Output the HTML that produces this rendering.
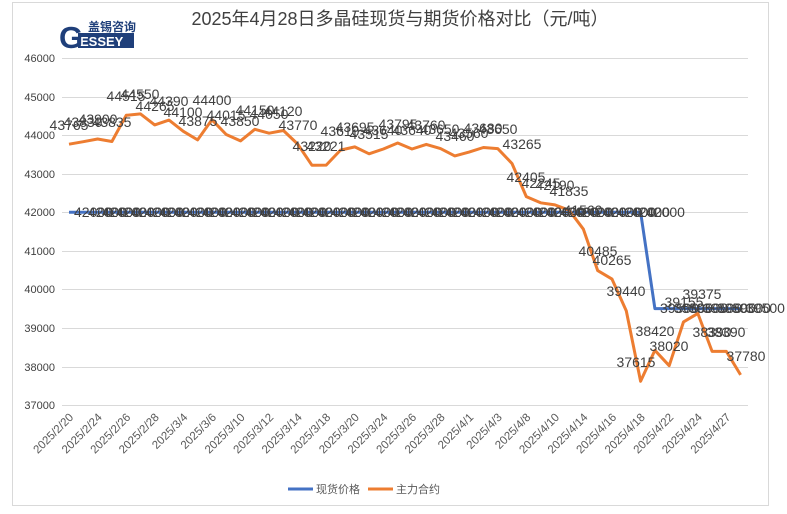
<!DOCTYPE html>
<html><head><meta charset="utf-8"><style>
body{margin:0;background:#fff;}
svg{display:block;font-family:"Liberation Sans","Noto Sans CJK SC",sans-serif;}
</style></head><body>
<svg width="787" height="514" viewBox="0 0 787 514" xmlns="http://www.w3.org/2000/svg">
<rect x="12.5" y="2.5" width="756" height="503" fill="#fff" stroke="#d9d9d9"/>
<!-- logo -->
<text x="88" y="31" font-size="12" fill="#1f3f7a" font-weight="bold">盖锡咨询</text>
<rect x="78" y="33" width="56" height="15" fill="#1f3f7a"/>
<text x="80" y="46" font-size="13" fill="#fff" font-weight="bold">ESSEY</text>
<text x="59" y="48" font-size="31" fill="#1f3f7a" font-weight="bold">G</text>
<text x="400" y="25" font-size="18" fill="#404040" text-anchor="middle">2025年4月28日多晶硅现货与期货价格对比（元/吨）</text>
<g stroke="#d9d9d9" stroke-width="1">
<line x1="62" x2="748" y1="58.5" y2="58.5"/><line x1="62" x2="748" y1="97.5" y2="97.5"/>
<line x1="62" x2="748" y1="135.5" y2="135.5"/><line x1="62" x2="748" y1="174.5" y2="174.5"/>
<line x1="62" x2="748" y1="212.5" y2="212.5"/><line x1="62" x2="748" y1="251.5" y2="251.5"/>
<line x1="62" x2="748" y1="289.5" y2="289.5"/><line x1="62" x2="748" y1="328.5" y2="328.5"/>
<line x1="62" x2="748" y1="367.5" y2="367.5"/><line x1="62" x2="748" y1="405.5" y2="405.5"/>
</g>
<g font-size="11" fill="#404040" text-anchor="end">
<text x="55" y="62">46000</text><text x="55" y="101">45000</text><text x="55" y="139">44000</text>
<text x="55" y="178">43000</text><text x="55" y="216">42000</text><text x="55" y="255">41000</text>
<text x="55" y="293">40000</text><text x="55" y="332">39000</text><text x="55" y="371">38000</text>
<text x="55" y="409">37000</text>
</g>
<g font-size="11.5" fill="#595959" text-anchor="end">
<text transform="translate(74,418) rotate(-45)">2025/2/20</text>
<text transform="translate(102.6,418) rotate(-45)">2025/2/24</text>
<text transform="translate(131.2,418) rotate(-45)">2025/2/26</text>
<text transform="translate(159.7,418) rotate(-45)">2025/2/28</text>
<text transform="translate(188.3,418) rotate(-45)">2025/3/4</text>
<text transform="translate(216.9,418) rotate(-45)">2025/3/6</text>
<text transform="translate(245.5,418) rotate(-45)">2025/3/10</text>
<text transform="translate(274.1,418) rotate(-45)">2025/3/12</text>
<text transform="translate(302.6,418) rotate(-45)">2025/3/14</text>
<text transform="translate(331.2,418) rotate(-45)">2025/3/18</text>
<text transform="translate(359.8,418) rotate(-45)">2025/3/20</text>
<text transform="translate(388.4,418) rotate(-45)">2025/3/24</text>
<text transform="translate(417,418) rotate(-45)">2025/3/26</text>
<text transform="translate(445.5,418) rotate(-45)">2025/3/28</text>
<text transform="translate(474.1,418) rotate(-45)">2025/4/1</text>
<text transform="translate(502.7,418) rotate(-45)">2025/4/3</text>
<text transform="translate(531.3,418) rotate(-45)">2025/4/8</text>
<text transform="translate(559.9,418) rotate(-45)">2025/4/10</text>
<text transform="translate(588.4,418) rotate(-45)">2025/4/14</text>
<text transform="translate(617,418) rotate(-45)">2025/4/16</text>
<text transform="translate(645.6,418) rotate(-45)">2025/4/18</text>
<text transform="translate(674.2,418) rotate(-45)">2025/4/22</text>
<text transform="translate(702.8,418) rotate(-45)">2025/4/24</text>
<text transform="translate(731.3,418) rotate(-45)">2025/4/27</text>
</g>
<polyline fill="none" stroke="#4472c4" stroke-width="3" stroke-linejoin="round" points="69,212.2 640.6,212.2 654.9,308.6 740.6,308.6"/>
<polyline fill="none" stroke="#ed7d31" stroke-width="3" stroke-linejoin="round" points="69,144.2 83.3,141.7 97.6,139 111.9,141.5 126.2,115.3 140.5,113.9 154.7,124.9 169,120.1 183.3,131.3 197.6,139.9 211.9,119.7 226.2,134.5 240.5,140.9 254.8,129.3 269.1,133.2 283.4,130.5 297.6,144 311.9,165.2 326.2,165.1 340.5,150.1 354.8,146.9 369.1,153.8 383.4,149 397.7,143 412,149 426.3,144.4 440.5,148.6 454.8,155.9 469.1,152.1 483.4,147.5 497.7,148.6 512,163.5 526.3,196.6 540.6,202.8 554.9,204.9 569.2,210.3 583.4,229.2 597.7,270.6 612,279.1 626.3,310.9 640.6,381.3 654.9,350.3 669.2,365.7 683.5,321.9 697.8,313.4 712.1,351.4 726.3,351.4 740.6,374.9"/>
<g font-size="14" fill="#404040">
<text x="74" y="217">42000</text><text x="88" y="217">42000</text><text x="102" y="217">42000</text><text x="116" y="217">42000</text><text x="131" y="217">42000</text><text x="145" y="217">42000</text><text x="159" y="217">42000</text><text x="174" y="217">42000</text><text x="188" y="217">42000</text><text x="202" y="217">42000</text><text x="217" y="217">42000</text><text x="231" y="217">42000</text><text x="245" y="217">42000</text><text x="260" y="217">42000</text><text x="274" y="217">42000</text><text x="288" y="217">42000</text><text x="302" y="217">42000</text><text x="317" y="217">42000</text><text x="331" y="217">42000</text><text x="345" y="217">42000</text><text x="360" y="217">42000</text><text x="374" y="217">42000</text><text x="388" y="217">42000</text><text x="403" y="217">42000</text><text x="417" y="217">42000</text><text x="431" y="217">42000</text><text x="445" y="217">42000</text><text x="460" y="217">42000</text><text x="474" y="217">42000</text><text x="488" y="217">42000</text><text x="503" y="217">42000</text><text x="517" y="217">42000</text><text x="531" y="217">42000</text><text x="546" y="217">42000</text><text x="560" y="217">42000</text><text x="574" y="217">42000</text><text x="588" y="217">42000</text><text x="603" y="217">42000</text><text x="617" y="217">42000</text><text x="631" y="217">42000</text><text x="646" y="217">42000</text>
<text x="660" y="313">39500</text><text x="674" y="313">39500</text><text x="689" y="313">39500</text><text x="703" y="313">39500</text><text x="717" y="313">39500</text><text x="732" y="313">39500</text><text x="746" y="313">39500</text>
</g>
<g font-size="14" fill="#404040" text-anchor="middle">
<text x="69" y="130">43765</text><text x="83" y="127">43830</text><text x="98" y="124">43900</text><text x="112" y="127">43835</text><text x="126" y="101">44515</text><text x="140" y="99">44550</text><text x="155" y="111">44265</text><text x="169" y="106">44390</text><text x="183" y="117">44100</text><text x="198" y="126">43875</text><text x="212" y="105">44400</text><text x="226" y="120">44015</text><text x="240" y="126">43850</text><text x="255" y="115">44150</text><text x="269" y="119">44050</text><text x="283" y="116">44120</text><text x="298" y="130">43770</text><text x="312" y="151">43220</text><text x="326" y="151">43221</text><text x="340" y="136">43610</text><text x="355" y="132">43695</text><text x="369" y="139">43515</text><text x="383" y="135">43640</text><text x="398" y="129">43795</text><text x="412" y="135">43640</text><text x="426" y="130">43760</text><text x="440" y="134">43650</text><text x="455" y="141">43460</text><text x="469" y="138">43560</text><text x="483" y="133">43680</text><text x="498" y="134">43650</text><text x="522" y="149">43265</text><text x="526" y="182">42405</text><text x="541" y="188">42245</text><text x="555" y="190">42190</text><text x="569" y="196">41835</text><text x="583" y="215">41560</text><text x="598" y="256">40485</text><text x="612" y="265">40265</text><text x="626" y="296">39440</text><text x="636" y="367">37615</text><text x="655" y="336">38420</text><text x="669" y="351">38020</text><text x="684" y="307">39155</text><text x="702" y="299">39375</text><text x="712" y="337">38390</text><text x="726" y="337">38390</text><text x="746" y="361">37780</text>
</g>
<line x1="288" x2="313" y1="489" y2="489" stroke="#4472c4" stroke-width="3"/>
<text x="316" y="493" font-size="11" fill="#595959">现货价格</text>
<line x1="368" x2="393" y1="489" y2="489" stroke="#ed7d31" stroke-width="3"/>
<text x="396" y="493" font-size="11" fill="#595959">主力合约</text>
</svg>
</body></html>
